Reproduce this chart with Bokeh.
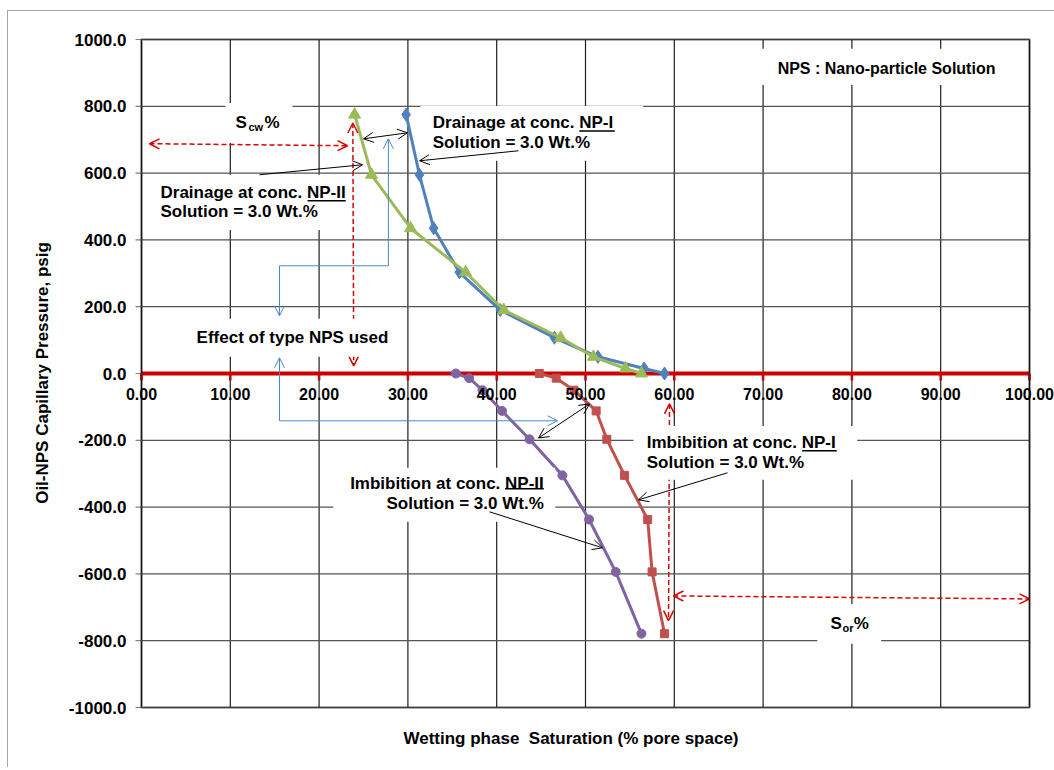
import math
from bokeh.plotting import figure
from bokeh.models import (Range1d, FixedTicker, Arrow, OpenHead, BoxAnnotation, Label, Title)
from bokeh.embed import file_html
from bokeh.resources import INLINE

# ---------------- data ----------------
pc_drainage = [775, 595, 435, 303, 190, 107, 50, 15, 0]
sw_drain_np1 = [29.8, 31.3, 32.9, 35.8, 40.4, 46.5, 51.4, 56.6, 58.9]
sw_drain_np2 = [24.0, 25.9, 30.3, 36.5, 40.8, 47.2, 50.9, 54.5, 56.3]

pc_imbibition = [0, -14, -50, -112, -197, -305, -437, -594, -779]
sw_imb_np1 = [44.8, 46.7, 48.7, 51.2, 52.4, 54.4, 57.0, 57.5, 58.9]
sw_imb_np2 = [35.4, 36.9, 38.4, 40.6, 43.7, 47.4, 50.4, 53.4, 56.3]

x_ticks = [0, 10, 20, 30, 40, 50, 60, 70, 80, 90, 100]
x_tick_labels = ["0.00", "10.00", "20.00", "30.00", "40.00", "50.00",
                 "60.00", "70.00", "80.00", "90.00", "100.00"]
y_ticks = [-1000, -800, -600, -400, -200, 0, 200, 400, 600, 800, 1000]
y_tick_labels = ["-1000.0", "-800.0", "-600.0", "-400.0", "-200.0", "0.0",
                 "200.0", "400.0", "600.0", "800.0", "1000.0"]

FONT = "Liberation Sans"
FS = "17px"
BLUE, RED, GREEN, PURPLE = "#4F81BD", "#C0504D", "#9BBB59", "#8064A2"
AXRED = "#CC0000"
DASHRED = "#D80000"
THINBLUE = "#4A86C8"

# frame is larger than the plot area so that tick labels are not clipped
PX_PER_X = 8.88                 # px per % saturation
PX_PER_Y = 668 / 2000.0         # px per psi
FRAME_L, FRAME_R, AREA_L = 60, 1054, 141
PAD_T, PAD_B = 14, 13
x_lo = -(AREA_L - FRAME_L) / PX_PER_X
x_hi = (FRAME_R - AREA_L) / PX_PER_X
y_lo = -1000 - PAD_B / PX_PER_Y
y_hi = 1000 + PAD_T / PX_PER_Y

p = figure(frame_width=FRAME_R - FRAME_L, frame_height=668 + PAD_T + PAD_B,
           min_border_left=FRAME_L, min_border_right=0,
           min_border_top=39 - PAD_T, min_border_bottom=47,
           x_range=Range1d(x_lo, x_hi), y_range=Range1d(y_lo, y_hi),
           output_backend="svg", toolbar_location=None,
           background_fill_color=None, border_fill_color=None,
           styles={"background": "linear-gradient(#A6A6A6,#A6A6A6) 7px 10px / 1px 100% no-repeat, "
                                 "linear-gradient(#A6A6A6,#A6A6A6) 7px 10px / 100% 1px no-repeat, white"})

p.outline_line_color = None
p.xgrid.visible = False
p.ygrid.visible = False

# bottom: x title as a Title (positioned like the original)
p.xaxis.visible = False
p.add_layout(Title(text="Wetting phase\u00a0 Saturation (% pore space)", align="left",
                   offset=343, standoff=13, text_font=FONT, text_font_size=FS,
                   text_font_style="bold", text_color="black"), "below")

# left axis: only the title
p.yaxis.ticker = FixedTicker(ticks=[])
p.yaxis.axis_line_color = None
p.yaxis.major_tick_line_color = None
p.yaxis.minor_tick_line_color = None
p.yaxis.axis_label = "Oil-NPS Capillary Pressure, psig"
p.yaxis.axis_label_text_font = FONT
p.yaxis.axis_label_text_font_size = FS
p.yaxis.axis_label_text_font_style = "bold"
p.yaxis.axis_label_text_color = "black"
p.yaxis.axis_label_standoff = 9

# plot-area background and grid
p.quad(left=[x_ticks[0]], right=[x_ticks[-1]], bottom=[y_ticks[0]], top=[y_ticks[-1]],
       fill_color="white", line_color=None)
p.segment(x0=x_ticks, y0=[y_ticks[0]] * len(x_ticks), x1=x_ticks, y1=[y_ticks[-1]] * len(x_ticks),
          line_color="#1f1f1f", line_width=1.2)
p.segment(x0=[x_ticks[0]] * len(y_ticks), y0=y_ticks, x1=[x_ticks[-1]] * len(y_ticks), y1=y_ticks,
          line_color="#555555", line_width=1.2)
# left axis ticks (gray, outside)
p.ray(x=[x_ticks[0]] * len(y_ticks), y=y_ticks, length=6, length_units="screen",
      angle=math.pi, line_color="#808080", line_width=1.2)

# red zero axis line with ticks (under the curves)
p.segment(x0=[x_ticks[0]], y0=[0], x1=[x_ticks[-1]], y1=[0], line_color=AXRED, line_width=4)
p.ray(x=x_ticks, y=[0] * len(x_ticks), length=7, length_units="screen",
      angle=-math.pi / 2, line_color=AXRED, line_width=2.5)

# series
p.line(sw_drain_np1, pc_drainage, line_color=BLUE, line_width=3)
p.scatter(sw_drain_np1, pc_drainage, marker="diamond", size=13, fill_color=BLUE, line_color=BLUE)
p.line(sw_imb_np1, pc_imbibition, line_color=RED, line_width=3)
p.scatter(sw_imb_np1, pc_imbibition, marker="square", size=8, fill_color=RED, line_color=RED)
p.line(sw_drain_np2, pc_drainage, line_color=GREEN, line_width=3)
p.scatter(sw_drain_np2, pc_drainage, marker="triangle", size=12, fill_color=GREEN, line_color=GREEN)
p.line(sw_imb_np2, pc_imbibition, line_color=PURPLE, line_width=3)
p.scatter(sw_imb_np2, pc_imbibition, marker="circle", size=9, fill_color=PURPLE, line_color=PURPLE)


def arrow(x0, y0, x1, y1, color="black", dash="solid", width=1.0, start=False, end=True, size=10):
    p.add_layout(Arrow(
        x_start=x0, y_start=y0, x_end=x1, y_end=y1,
        line_color=color, line_width=width, line_dash=dash,
        start=OpenHead(size=size, line_color=color, line_width=width) if start else None,
        end=OpenHead(size=size, line_color=color, line_width=width) if end else None))


def box(l, r, t, b):
    p.add_layout(BoxAnnotation(left=l, right=r, top=t, bottom=b,
                               fill_color="white", fill_alpha=1.0, line_color=None))


def label(x, y, text, align="left", size=FS, yoff=0, xoff=0, style="bold"):
    p.add_layout(Label(x=x, y=y, text=text, text_font=FONT, text_font_size=size,
                       text_font_style=style, text_align=align, text_baseline="middle",
                       text_color="black", y_offset=yoff, x_offset=xoff))


# tick labels
for t, s in zip(x_ticks, x_tick_labels):
    label(t, 0, s, align="center", yoff=-20, size="16px")
for v, s in zip(y_ticks, y_tick_labels):
    label(x_ticks[0], v, s, align="right", xoff=-15)

# red dashed S_cw / S_or markers
arrow(0.9, 688, 23.2, 682, DASHRED, "5 3", 1.5, start=True)
arrow(23.8, 750, 23.9, 23, DASHRED, "5 3", 1.5, start=True)
arrow(59.46, -91, 59.35, -740, DASHRED, "5 3", 1.5, start=True)
arrow(59.9, -666, 100.0, -675, DASHRED, "5 3", 1.5, start=True)

# thin blue "effect of type" connectors
arrow(27.8, 322.5, 27.8, 702.7, THINBLUE)
arrow(27.8, 322.5, 15.54, 322.5, THINBLUE, end=False)
arrow(15.54, 322.5, 15.54, 172.8, THINBLUE)
arrow(15.54, -141.6, 15.54, 47.0, THINBLUE)
arrow(15.54, -141.6, 46.85, -141.6, THINBLUE)

# white label boxes
box(9.46, 17.0, 810, 690)        # Scw
box(31.4, 56.5, 801, 637)        # drainage NP-I
box(1.0, 23.5, 595, 430)         # drainage NP-II
box(5.5, 28.6, 164, 50)          # effect
box(55.4, 80.6, -157, -318)      # imbibition NP-I
box(21.6, 46.6, -282, -444)      # imbibition NP-II
box(69.7, 97.9, 972, 864)        # NPS
box(76.1, 83.3, -690, -809)      # Sor

# black pointer arrows
arrow(13.29, 595, 24.89, 625)
arrow(25.0, 702.7, 29.95, 720.6, start=True)
arrow(42.45, 666.8, 31.31, 636.9)
arrow(65.99, -297.3, 55.97, -378.2)
arrow(39.19, -414.1, 51.91, -521.9)
arrow(44.71, -193.1, 50.45, -91.3, start=True)

# texts
label(10.59, 750.6, "S")
label(12.05, 750.6, "cw", size="11px", yoff=-4)
label(13.85, 750.6, "%")

label(77.6, -749.4, "S")
label(78.95, -749.4, "or", size="11px", yoff=-4)
label(80.2, -749.4, "%")

label(32.8, 750.6, "Drainage at conc. NP-I")
label(32.8, 690.7, "Solution = 3.0 Wt.%")
arrow(49.3, 726.4, 53.3, 726.4, end=False, width=1.5)

label(2.14, 541, "Drainage at conc. NP-II")
label(2.14, 484, "Solution = 3.0 Wt.%")
arrow(18.7, 517, 23.0, 517, end=False, width=1.5)

label(17.0, 106.9, "Effect of type NPS used", align="center")

label(56.9, -207.5, "Imbibition at conc. NP-I")
label(56.9, -267.4, "Solution = 3.0 Wt.%")
arrow(74.4, -231.4, 78.3, -231.4, end=False, width=1.5)

label(45.3, -330, "Imbibition at conc. NP-II", align="right")
label(45.3, -390, "Solution = 3.0 Wt.%", align="right")
arrow(40.94, -345, 45.3, -345, end=False, width=1.5)

label(83.9, 912.3, "NPS : Nano-particle Solution", align="center", size="16px")

# plot-area border on top
p.add_layout(BoxAnnotation(left=x_ticks[0], right=x_ticks[-1], bottom=y_ticks[0], top=y_ticks[-1],
                           fill_color=None, line_color="black", line_width=3))

open("out.html", "w").write(file_html(p, INLINE))
